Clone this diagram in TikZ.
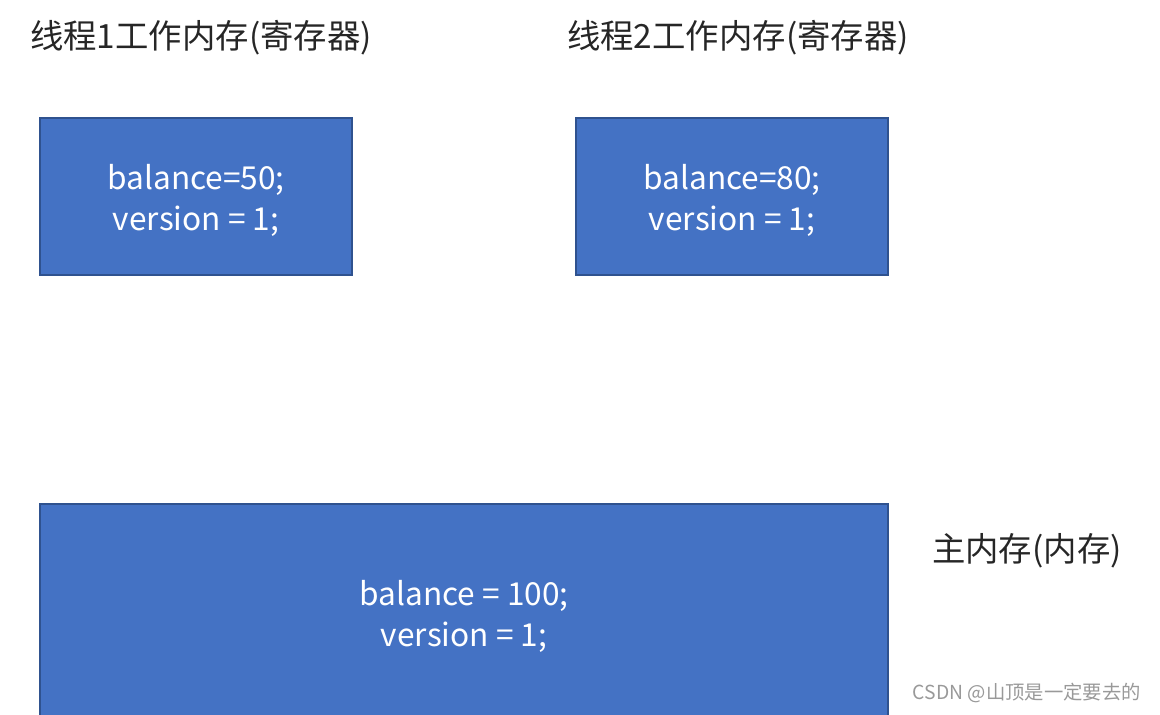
\documentclass[tikz,border=0pt]{standalone}
\usepackage{fontspec}
\setmainfont{Noto Sans CJK SC}
\usepackage{xcolor}
\definecolor{boxFill}{HTML}{4472C4}
\definecolor{boxStroke}{HTML}{2F528F}
\colorlet{textColor}{black!85}
\colorlet{markColor}{black!40}

\begin{document}
\begin{tikzpicture}[x=0.02cm, y=-0.02cm]
    \tikzset{
      memBox/.style={
        draw=boxStroke, fill=boxFill, line width=1.2pt,
        text=white, align=center, inner sep=0pt,
        font=\fontsize{18}{23}\selectfont,
      },
      memLabel/.style={color=textColor, font=\fontsize{19}{22}\selectfont},
    }
    \useasboundingbox (0, 0) rectangle (1160, 714);
    \clip (0, 0) rectangle (1160, 714);
    % working memory of the two threads
    \node[memBox, minimum width=312*0.02cm, minimum height=157*0.02cm]
      (work1) at (196, 196.5) {\rule{0pt}{19pt}balance=50;\\version = 1;};
    \node[memBox, minimum width=312*0.02cm, minimum height=157*0.02cm]
      (work2) at (732, 196.5) {\rule{0pt}{19pt}balance=80;\\version = 1;};
    \node[memLabel, anchor=west] (label1) at (24, 38) {线程1工作内存(寄存器)};
    \node[memLabel, anchor=west] (label2) at (561, 38) {线程2工作内存(寄存器)};
    % main memory
    \node[memBox, minimum width=848*0.02cm, minimum height=222*0.02cm]
      (main) at (464, 615) {\rule{0pt}{16pt}balance = 100;\\version = 1;};
    \node[memLabel, anchor=west] (mainLabel) at (926, 551) {主内存(内存)};
    \node[anchor=east, color=markColor, font=\fontsize{11}{13}\selectfont]
      (mark) at (1147, 693) {CSDN @山顶是一定要去的};
  \end{tikzpicture}
\end{document}
